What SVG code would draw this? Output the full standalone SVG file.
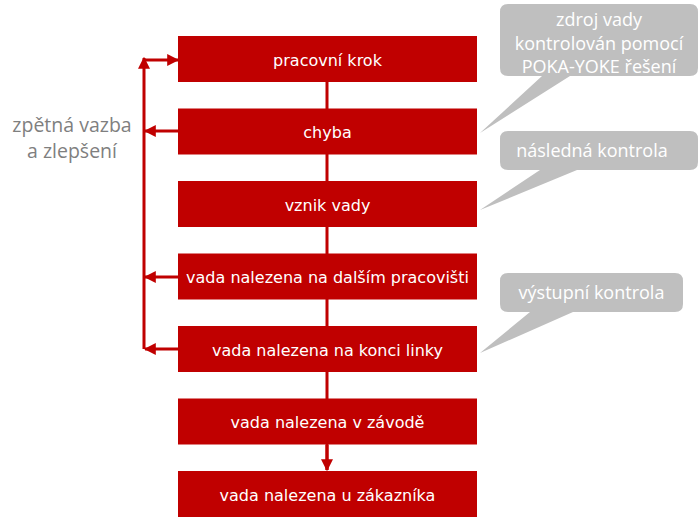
<svg xmlns="http://www.w3.org/2000/svg" width="700" height="518" viewBox="0 0 700 518">
<style>
.box{fill:#C00000}
.bt{fill:#fff;font-family:"DejaVu Sans",sans-serif;font-size:16px;text-anchor:middle;dominant-baseline:central}
.co{fill:#BFBFBF}
.ct{fill:#fff;font-family:"Open Sans",sans-serif;font-size:18px;text-anchor:middle;dominant-baseline:central}
.ln{stroke:#C00000;stroke-width:3;fill:none}
.lt{fill:#7F7F7F;font-family:"Open Sans",sans-serif;font-size:19.5px;text-anchor:middle}
</style>
<defs>
<marker id="ah" viewBox="0 0 10 10" refX="9" refY="5" markerWidth="4" markerHeight="4" orient="auto" markerUnits="strokeWidth">
<path d="M0,0 L10,5 L0,10 z" fill="#C00000"/>
</marker>
</defs>
<g id="connectors">
<line class="ln" x1="327" y1="82" x2="327" y2="470"/>
<line class="ln" x1="327" y1="445" x2="327" y2="470" marker-end="url(#ah)"/>
<line class="ln" x1="144" y1="349" x2="144" y2="58" marker-end="url(#ah)"/>
<line class="ln" x1="144" y1="60" x2="178" y2="60" marker-end="url(#ah)"/>
<line class="ln" x1="178" y1="131" x2="145" y2="131" marker-end="url(#ah)"/>
<line class="ln" x1="178" y1="277" x2="145" y2="277" marker-end="url(#ah)"/>
<line class="ln" x1="178" y1="349" x2="145" y2="349" marker-end="url(#ah)"/>
</g>
<g id="n1"><rect class="box" x="178" y="36" width="299" height="46"/><text class="bt" x="327.5" y="60">pracovní krok</text></g>
<g id="n2"><rect class="box" x="178" y="108.5" width="299" height="46"/><text class="bt" x="327.5" y="132.5">chyba</text></g>
<g id="n3"><rect class="box" x="178" y="181" width="299" height="46"/><text class="bt" x="327.5" y="205">vznik vady</text></g>
<g id="n4"><rect class="box" x="178" y="253.5" width="299" height="46"/><text class="bt" x="327.5" y="277.5">vada nalezena na dalším pracovišti</text></g>
<g id="n5"><rect class="box" x="178" y="326" width="299" height="46"/><text class="bt" x="327.5" y="350">vada nalezena na konci linky</text></g>
<g id="n6"><rect class="box" x="178" y="398.5" width="299" height="46"/><text class="bt" x="327.5" y="422.5">vada nalezena v závodě</text></g>
<g id="n7"><rect class="box" x="178" y="471" width="299" height="46"/><text class="bt" x="327.5" y="495">vada nalezena u zákazníka</text></g>
<g id="label-feedback"><text class="lt" x="72" y="132">zpětná vazba</text><text class="lt" x="72" y="158">a zlepšení</text></g>
<g id="c1"><path class="co" d="M508,4 H690 Q698,4 698,12 V68 Q698,76 690,76 H570 L480,133 L542,76 H508 Q500,76 500,68 V12 Q500,4 508,4 Z"/>
<text class="ct" x="599" y="19">zdroj vady</text><text class="ct" x="599" y="43">kontrolován pomocí</text><text class="ct" x="599" y="66">POKA-YOKE řešení</text></g>
<g id="c2"><path class="co" d="M508,131 H690 Q698,131 698,139 V162 Q698,170 690,170 H577 L480,210 L540,170 H508 Q500,170 500,162 V139 Q500,131 508,131 Z"/>
<text class="ct" x="592" y="150">následná kontrola</text></g>
<g id="c3"><path class="co" d="M508,273 H675 Q683,273 683,281 V304 Q683,312 675,312 H573 L480,353 L530,312 H508 Q500,312 500,304 V281 Q500,273 508,273 Z"/>
<text class="ct" x="591.5" y="292">výstupní kontrola</text></g>
</svg>
